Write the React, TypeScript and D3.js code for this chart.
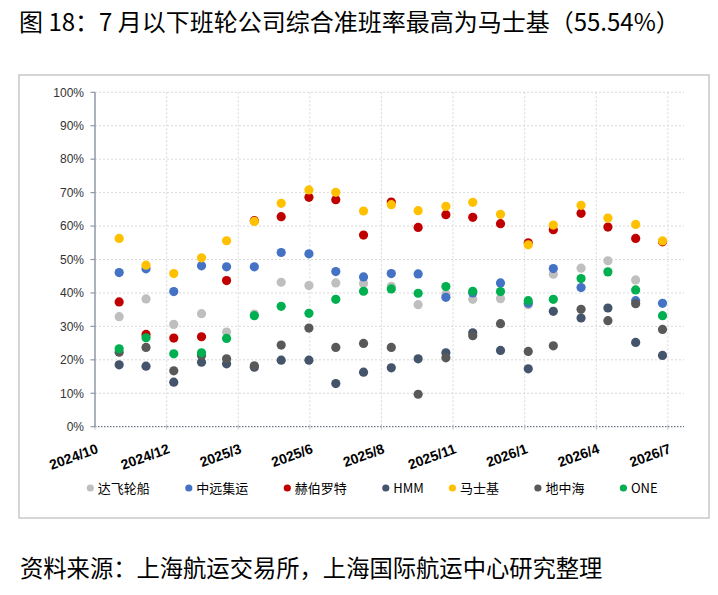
import React, { useEffect, useRef } from 'react';
import * as d3 from 'd3';

// monthly observations, 2024/11 .. 2026/7
const months = [
    '2024-11', '2024-12', '2025-01', '2025-02', '2025-03', '2025-04', '2025-05',
    '2025-06', '2025-07', '2025-08', '2025-09', '2025-10', '2025-11', '2025-12',
    '2026-01', '2026-02', '2026-03', '2026-04', '2026-05', '2026-06', '2026-07',
];

// schedule reliability, %
const cmaValues = [32.9, 38.2, 30.6, 33.8, 28.3, 33.7, 43.2, 42.2, 43.0, 42.8, 42.0, 36.5, 39.7, 38.1, 38.3, 36.5, 45.6, 47.4, 49.6, 43.9, null];
const coscoValues = [46.1, 47.2, 40.4, 48.1, 47.8, 47.8, 52.1, 51.7, 46.4, 44.8, 45.8, 45.7, 38.7, 40.0, 43.0, 36.9, 47.3, 41.6, null, 37.7, 36.9];
const hapagValues = [37.3, 27.6, 26.5, 26.9, 43.7, 61.6, 62.8, 68.6, 67.9, 57.3, 67.2, 59.6, 63.4, 62.6, 60.7, 55.0, 58.9, 63.8, 59.7, 56.3, 55.3];
const hmmValues = [18.5, 18.1, 13.3, 19.3, 18.8, 17.8, 19.9, 19.9, 12.9, 16.3, 17.6, 20.3, 22.1, 28.1, 22.8, 17.3, 34.5, 32.5, 35.5, 25.2, 21.3];
const maerskValues = [56.3, 48.3, 45.8, 50.5, 55.6, 61.4, 66.8, 70.8, 70.1, 64.5, 66.4, 64.6, 65.9, 67.1, 63.5, 54.4, 60.3, 66.2, 62.4, 60.5, 55.54];
const mscValues = [22.3, 23.7, 16.7, 21.3, 20.3, 18.2, 24.4, 29.5, 23.7, 24.9, 23.7, 9.7, 20.6, 27.2, 30.8, 22.5, 24.2, 35.1, 31.7, 36.8, 29.1];
const oneValues = [23.3, 26.6, 21.8, 22.1, 26.4, 33.2, 36.0, 33.9, 38.1, 40.5, 41.2, 39.9, 41.9, 40.5, 40.4, 37.7, 38.1, 44.3, 46.3, 40.9, 33.2];

const seriesNames = ['达飞轮船', '中远集运', '赫伯罗特', 'HMM', '马士基', '地中海', 'ONE'];
const seriesValues = [cmaValues, coscoValues, hapagValues, hmmValues, maerskValues, mscValues, oneValues];
const seriesColors = ['#BFBFBF', '#4472C4', '#C00000', '#44546A', '#FFC000', '#595959', '#00B050'];

const yTicks = [0, 10, 20, 30, 40, 50, 60, 70, 80, 90, 100];
// date axis: starts 2024/10/5, major unit 80 days
const axisStart = '2024-10-05';
const axisEnd = '2026-07-25';
const tickStepDays = 80;
const tickCount = 9;

const titleText = '图 18：7 月以下班轮公司综合准班率最高为马士基（55.54%）';
const sourceText = '资料来源：上海航运交易所，上海国际航运中心研究整理';

const W = 718;
const H = 595;

const ReliabilityChart: React.FC = () => {
    const svgRef = useRef<SVGSVGElement>(null);

    useEffect(() => {
        const svg = d3.select(svgRef.current);
        svg.selectAll('*').remove();

        const left = 95;
        const right = 684;
        const top = 92.3;
        const bottom = 426.7;

        const parseDay = d3.utcParse('%Y-%m-%d');
        const parseMonth = d3.utcParse('%Y-%m');
        const start = parseDay(axisStart)!;
        const end = parseDay(axisEnd)!;
        const ticks = d3.range(tickCount).map((i) => d3.utcDay.offset(start, i * tickStepDays));
        const fmt = d3.utcFormat('%Y/%-m');

        const x = d3.scaleUtc().domain([start, end]).range([left, right]);
        const y = d3.scaleLinear().domain([0, 100]).range([bottom, top]);

        const fontLatin = "'Liberation Sans', Arial, sans-serif";
        const fontCjk = "'Noto Sans CJK SC', sans-serif";

        // title + source
        svg.append('text')
            .attr('x', 19)
            .attr('y', 31)
            .attr('font-family', fontCjk)
            .attr('font-size', 24)
            .attr('fill', '#000')
            .text(titleText);

        svg.append('text')
            .attr('x', 20)
            .attr('y', 577)
            .attr('font-family', fontCjk)
            .attr('font-size', 23.3)
            .attr('fill', '#000')
            .text(sourceText);

        // chart frame
        svg.append('rect')
            .attr('x', 19)
            .attr('y', 75)
            .attr('width', 690)
            .attr('height', 443)
            .attr('fill', '#fff')
            .attr('stroke', '#C8C8C8')
            .attr('stroke-width', 1.5);

        const g = svg.append('g');

        // gridlines
        g.selectAll('.hgrid')
            .data(yTicks.filter((t) => t > 0))
            .enter()
            .append('line')
            .attr('x1', left)
            .attr('x2', right)
            .attr('y1', (d) => y(d))
            .attr('y2', (d) => y(d))
            .attr('stroke', '#D9D9D9')
            .attr('stroke-dasharray', '2,2');

        g.selectAll('.vgrid')
            .data(ticks.slice(1))
            .enter()
            .append('line')
            .attr('x1', (d) => x(d))
            .attr('x2', (d) => x(d))
            .attr('y1', top)
            .attr('y2', bottom)
            .attr('stroke', '#D9D9D9')
            .attr('stroke-dasharray', '2,2');

        // x axis (dotted) with small ticks
        g.append('line')
            .attr('x1', left)
            .attr('x2', right)
            .attr('y1', bottom)
            .attr('y2', bottom)
            .attr('stroke', '#44546A')
            .attr('stroke-width', 1)
            .attr('stroke-dasharray', '1.5,1.5');

        g.selectAll('.xtick')
            .data(ticks)
            .enter()
            .append('line')
            .attr('x1', (d) => x(d))
            .attr('x2', (d) => x(d))
            .attr('y1', bottom - 2)
            .attr('y2', bottom + 3)
            .attr('stroke', '#BFBFBF');

        g.selectAll('.xlabel')
            .data(ticks)
            .enter()
            .append('text')
            .attr('transform', (d) => `translate(${x(d) + 4},${bottom + 26}) rotate(-20)`)
            .attr('text-anchor', 'end')
            .attr('font-family', fontLatin)
            .attr('font-weight', 'bold')
            .attr('font-size', 14)
            .attr('fill', '#000')
            .text((d) => fmt(d));

        // y axis
        g.append('line')
            .attr('x1', left)
            .attr('x2', left)
            .attr('y1', top)
            .attr('y2', bottom)
            .attr('stroke', '#8F99A8')
            .attr('stroke-width', 1.5);

        g.selectAll('.ytick')
            .data(yTicks)
            .enter()
            .append('line')
            .attr('x1', left - 4.5)
            .attr('x2', left)
            .attr('y1', (d) => y(d))
            .attr('y2', (d) => y(d))
            .attr('stroke', '#8F99A8')
            .attr('stroke-width', 1.2);

        g.selectAll('.ylabel')
            .data(yTicks)
            .enter()
            .append('text')
            .attr('x', left - 11)
            .attr('y', (d) => y(d) + 4.3)
            .attr('text-anchor', 'end')
            .attr('font-family', fontLatin)
            .attr('font-size', 12)
            .attr('fill', '#333')
            .text((d) => `${d}%`);

        // scatter points, series in legend order (later on top)
        seriesValues.forEach((vals, si) => {
            const pts = vals
                .map((v, i) => ({ date: parseMonth(months[i])!, v }))
                .filter((p) => p.v !== null) as { date: Date; v: number }[];
            g.append('g')
                .selectAll('circle')
                .data(pts)
                .enter()
                .append('circle')
                .attr('cx', (d) => x(d.date))
                .attr('cy', (d) => y(d.v))
                .attr('r', 4.6)
                .attr('fill', seriesColors[si]);
        });

        // legend
        const legendY = 488;
        const textWidth = (s: string) =>
            Array.from(s).reduce((acc, ch) => acc + (/[\u4e00-\u9fff]/.test(ch) ? 13 : 6.7), 0);
        let lx = 90.3;
        seriesNames.forEach((name, si) => {
            const item = svg.append('g').attr('transform', `translate(${lx},${legendY})`);
            item.append('circle').attr('r', 3.6).attr('fill', seriesColors[si]);
            item.append('text')
                .attr('x', 7.5)
                .attr('y', 4.6)
                .attr('font-family', `'Liberation Sans Narrow', ${fontCjk}`)
                .attr('font-size', 13)
                .attr('fill', '#000')
                .text(name);
            lx += 8 + textWidth(name) + 38.5;
        });
    }, []);

    return (
        <svg
            ref={svgRef}
            width={W}
            height={H}
            style={{ position: 'absolute', left: 0, top: 0, display: 'block', background: '#fff' }}
        />
    );
};

export default function App() {
    return <ReliabilityChart />;
}
